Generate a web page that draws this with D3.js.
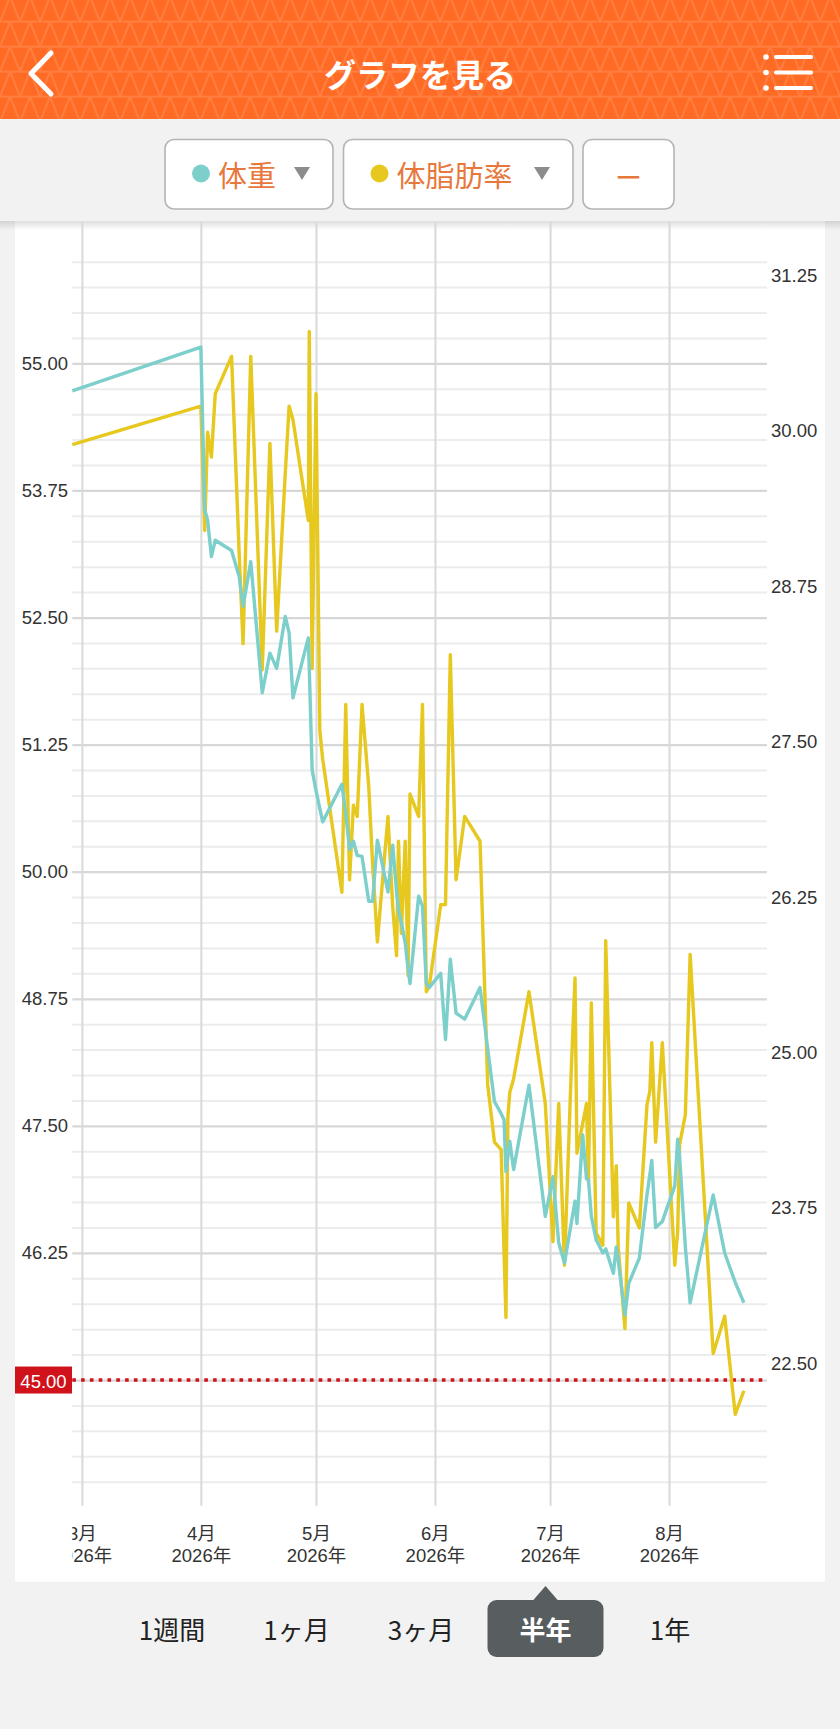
<!DOCTYPE html>
<html>
<head>
<meta charset="utf-8">
<script src="https://cdn.jsdelivr.net/npm/d3@7"></script>
<style>
  html, body { margin: 0; padding: 0; background: #f2f2f2; }
  svg { display: block; }
</style>
</head>
<body>
<svg id="chart" width="840" height="1729"></svg>
<script>
// ---------------- DATA ----------------
const pageTitle = "グラフを見る";
const seriesNames = ["体重", "体脂肪率"];
const periods = ["1週間", "1ヶ月", "3ヶ月", "半年", "1年"];
const selectedPeriod = "半年";

const xDomain = ["2026-02-26 12:00", "2026-08-26 12:00"];
const monthTicks = ["2026-03-01 00:00", "2026-04-01 00:00", "2026-05-01 00:00",
                    "2026-06-01 00:00", "2026-07-01 00:00", "2026-08-01 00:00"];
const weightTicks = [55.00, 53.75, 52.50, 51.25, 50.00, 48.75, 47.50, 46.25];
const fatTicks = [31.25, 30.00, 28.75, 27.50, 26.25, 25.00, 23.75, 22.50];
const weightDomain = [44, 56];
const fatRefTicks = [22.50, 31.25];
const targetWeight = 45.00;

const dates = [
  "2026-02-26 12:00", "2026-04-01 00:00", "2026-04-02 00:00", "2026-04-02 18:00",
  "2026-04-03 18:00", "2026-04-04 18:00", "2026-04-09 00:00", "2026-04-11 00:00",
  "2026-04-12 00:00", "2026-04-14 00:00", "2026-04-17 00:00", "2026-04-19 00:00",
  "2026-04-20 18:00", "2026-04-23 00:00", "2026-04-24 00:00", "2026-04-25 00:00",
  "2026-04-29 00:00", "2026-04-29 06:00", "2026-04-30 00:00", "2026-05-01 00:00",
  "2026-05-02 00:00", "2026-05-02 18:00", "2026-05-07 18:00", "2026-05-08 18:00",
  "2026-05-09 18:00", "2026-05-10 18:00", "2026-05-11 18:00", "2026-05-13 00:00",
  "2026-05-14 18:00", "2026-05-15 18:00", "2026-05-17 00:00", "2026-05-19 18:00",
  "2026-05-21 00:00", "2026-05-22 00:00", "2026-05-22 12:00", "2026-05-23 06:00",
  "2026-05-24 06:00", "2026-05-25 00:00", "2026-05-25 12:00", "2026-05-27 18:00",
  "2026-05-28 18:00", "2026-05-29 18:00", "2026-05-30 12:00", "2026-06-02 12:00",
  "2026-06-03 18:00", "2026-06-05 00:00", "2026-06-06 12:00", "2026-06-08 18:00",
  "2026-06-12 18:00", "2026-06-14 18:00", "2026-06-16 12:00", "2026-06-18 06:00",
  "2026-06-19 00:00", "2026-06-19 12:00", "2026-06-20 00:00", "2026-06-20 12:00",
  "2026-06-21 12:00", "2026-06-25 12:00", "2026-06-29 18:00", "2026-07-01 18:00",
  "2026-07-03 06:00", "2026-07-04 18:00", "2026-07-06 12:00", "2026-07-07 12:00",
  "2026-07-08 00:00", "2026-07-09 12:00", "2026-07-10 12:00", "2026-07-11 00:00",
  "2026-07-11 18:00", "2026-07-13 00:00", "2026-07-14 18:00", "2026-07-15 12:00",
  "2026-07-17 12:00", "2026-07-18 06:00", "2026-07-18 18:00", "2026-07-20 12:00",
  "2026-07-21 12:00", "2026-07-24 06:00", "2026-07-26 06:00", "2026-07-27 00:00",
  "2026-07-27 12:00", "2026-07-28 12:00", "2026-07-30 06:00", "2026-08-02 12:00",
  "2026-08-03 06:00", "2026-08-03 18:00", "2026-08-05 06:00", "2026-08-06 12:00",
  "2026-08-12 12:00", "2026-08-15 12:00", "2026-08-18 06:00", "2026-08-20 12:00"
];

const weight = [
  54.73, 55.16, 53.56, 53.46, 53.10, 53.26, 53.16, 52.90,
  52.61, 53.05, 51.76, 52.15, 52.00, 52.51, 52.35, 51.71,
  52.30, 52.00, 51.00, 50.80, 50.62, 50.49, 50.86, 50.57,
  50.22, 50.30, 50.16, 50.15, 49.71, 49.71, 50.31, 49.80,
  50.26, 49.80, 49.62, 49.50, 49.30, 49.04, 48.90, 49.76,
  49.66, 48.90, 48.86, 49.00, 48.35, 49.14, 48.61, 48.55,
  48.86, 48.26, 47.74, 47.62, 47.56, 47.05, 47.20, 47.35,
  47.07, 47.90, 46.61, 47.00, 46.35, 46.15, 46.54, 46.76,
  46.54, 47.41, 46.98, 46.97, 46.61, 46.38, 46.25, 46.29,
  46.05, 46.31, 46.18, 45.64, 45.95, 46.20, 46.82, 47.02,
  47.16, 46.50, 46.56, 46.91, 47.37, 47.20, 46.31, 45.76,
  46.82, 46.25, 45.96, 45.76
];

const bodyFat = [
  29.89, 30.20, 29.20, 29.99, 29.79, 30.30, 30.60, 29.00,
  28.29, 30.60, 28.08, 29.90, 28.39, 29.66, 30.20, 30.09,
  29.28, 30.80, 28.09, 30.30, 27.59, 27.36, 26.29, 27.80,
  26.39, 26.99, 26.90, 27.80, 27.14, 26.52, 25.89, 26.90,
  26.17, 25.78, 26.70, 25.96, 26.70, 25.62, 27.08, 26.90,
  27.80, 25.49, 25.53, 26.19, 26.19, 28.20, 26.39, 26.90,
  26.70, 24.74, 24.28, 24.22, 23.40, 22.87, 24.48, 24.68,
  24.79, 25.49, 24.59, 23.48, 24.59, 23.29, 24.84, 25.60,
  24.19, 24.43, 24.59, 23.96, 25.40, 23.55, 23.45, 25.90,
  23.68, 24.09, 23.44, 22.78, 23.79, 23.59, 24.58, 24.69,
  25.08, 24.28, 25.08, 23.29, 23.56, 24.26, 24.50, 25.79,
  22.58, 22.88, 22.09, 22.28
];

// ---------------- SETUP ----------------
const parse = d3.timeParse("%Y-%m-%d %H:%M");
const records = dates.map((d, i) => ({ date: parse(d), w: weight[i], f: bodyFat[i] }));

const svg = d3.select("#chart");
const FONT = "'Liberation Sans', 'Noto Sans CJK JP', Arial, sans-serif";
const JP = "'Noto Sans CJK JP', 'Noto Sans', sans-serif";
const ORANGE_TXT = "#e8773c";
const TEAL = "#7ccfcb";
const YELLOW = "#e6c81e";

const plot = { left: 72.3, right: 766.9, top: 261.7, bottom: 1481.7 };

const x = d3.scaleTime().domain(xDomain.map(parse)).range([plot.left, plot.right]);
const yW = d3.scaleLinear().domain(weightDomain).range([plot.bottom, plot.top]);
const yF = d3.scaleLinear().domain(fatRefTicks).range([1363.4, 275.6]);

// page background
svg.append("rect").attr("width", 840).attr("height", 1729).attr("fill", "#f2f2f2");

// ---------------- HEADER ----------------
const defs = svg.append("defs");
const pat = defs.append("pattern").attr("id", "tri").attr("patternUnits", "userSpaceOnUse")
  .attr("width", 20).attr("height", 25).attr("x", 0).attr("y", 21.7);
pat.append("rect").attr("width", 20).attr("height", 25).attr("fill", "#ff6b24");
pat.append("path").attr("d", "M0,25 L10,0 L20,25 M0,0 H20 M0,25 H20")
  .attr("stroke", "rgba(255,255,255,0.13)").attr("stroke-width", 2).attr("fill", "none");

svg.append("rect").attr("x", 0).attr("y", 0).attr("width", 840).attr("height", 119).attr("fill", "url(#tri)");
svg.append("text").attr("x", 420).attr("y", 73).attr("text-anchor", "middle")
  .attr("dominant-baseline", "central").attr("fill", "#fff")
  .attr("font-family", JP).attr("font-weight", 700).attr("font-size", 32).text(pageTitle);
svg.append("path").attr("d", "M51,53 L31,73.5 L51,94").attr("fill", "none")
  .attr("stroke", "#fff").attr("stroke-width", 5).attr("stroke-linecap", "round").attr("stroke-linejoin", "round");
[57, 72.5, 88].forEach(yy => {
  svg.append("circle").attr("cx", 766).attr("cy", yy).attr("r", 2.8).attr("fill", "#fff");
  svg.append("line").attr("x1", 776).attr("x2", 811).attr("y1", yy).attr("y2", yy)
    .attr("stroke", "#fff").attr("stroke-width", 4).attr("stroke-linecap", "round");
});

// ---------------- TOOLBAR ----------------
const btns = [
  { x: 165, w: 168, label: seriesNames[0], color: TEAL, tri: 302 },
  { x: 343.5, w: 229.5, label: seriesNames[1], color: YELLOW, tri: 542 },
  { x: 583, w: 91, label: "ー", color: null, tri: null }
];
btns.forEach(b => {
  svg.append("rect").attr("x", b.x).attr("y", 139.5).attr("width", b.w).attr("height", 69.5)
    .attr("rx", 9).attr("fill", "#fff").attr("stroke", "#b4b4b4").attr("stroke-width", 1.6);
  if (b.color) {
    svg.append("circle").attr("cx", b.x + 36).attr("cy", 173.5).attr("r", 9).attr("fill", b.color);
    svg.append("text").attr("x", b.x + 53).attr("y", 174).attr("dominant-baseline", "central")
      .attr("font-family", JP).attr("font-size", 29).attr("fill", ORANGE_TXT).text(b.label);
    svg.append("path").attr("d", `M${b.tri - 8},167 L${b.tri + 8},167 L${b.tri},180 Z`).attr("fill", "#8c8c8c");
  } else {
    svg.append("text").attr("x", b.x + b.w / 2).attr("y", 176).attr("text-anchor", "middle")
      .attr("dominant-baseline", "central").attr("font-family", JP).attr("font-size", 27)
      .attr("fill", ORANGE_TXT).text(b.label);
  }
});

// ---------------- CHART PANEL ----------------
svg.append("rect").attr("x", 15).attr("y", 221).attr("width", 810).attr("height", 1360.7).attr("fill", "#fff");
const shadow = defs.append("linearGradient").attr("id", "shadow").attr("x1", 0).attr("x2", 0).attr("y1", 0).attr("y2", 1);
shadow.append("stop").attr("offset", 0).attr("stop-color", "#000").attr("stop-opacity", 0.13);
shadow.append("stop").attr("offset", 1).attr("stop-color", "#000").attr("stop-opacity", 0);
svg.append("rect").attr("x", 0).attr("y", 221).attr("width", 840).attr("height", 9).attr("fill", "url(#shadow)");

// horizontal grid (every 0.25 kg, darker every 1.25)
const minorVals = d3.range(weightDomain[0], weightDomain[1] + 0.001, 0.25);
const isMajor = v => weightTicks.some(t => Math.abs(t - v) < 1e-6) || Math.abs(v - targetWeight) < 1e-6;
const hGrid = svg.append("g").attr("transform", `translate(${plot.left},0)`)
  .call(d3.axisLeft(yW).tickValues(minorVals).tickSize(-(plot.right - plot.left)).tickFormat(""));
hGrid.select(".domain").remove();
hGrid.selectAll(".tick line")
  .attr("stroke", d => isMajor(d) ? "#d7d7d7" : "#ececec")
  .attr("stroke-width", d => isMajor(d) ? 2.2 : 2);

// vertical month lines
const monthDates = monthTicks.map(parse);
const vBottom = 1505.7, vTop = 222;
const vGrid = svg.append("g").attr("transform", `translate(0,${vBottom})`)
  .call(d3.axisBottom(x).tickValues(monthDates).tickSize(-(vBottom - vTop)).tickFormat(""));
vGrid.select(".domain").remove();
vGrid.selectAll(".tick line").attr("stroke", "#d9d9d9").attr("stroke-width", 2);

// x labels (clipped at plot left edge)
defs.append("clipPath").attr("id", "xclip").append("rect")
  .attr("x", plot.left).attr("y", 1500).attr("width", 760).attr("height", 80);
const xLab = svg.append("g").attr("clip-path", "url(#xclip)")
  .append("g").attr("transform", `translate(0,${vBottom})`)
  .call(d3.axisBottom(x).tickValues(monthDates).tickSize(0).tickPadding(0)
        .tickFormat(d3.timeFormat("%-m月")));
xLab.select(".domain").remove();
xLab.attr("font-family", FONT).attr("font-size", 18.5);
xLab.selectAll(".tick text").each(function(d) {
  const t = d3.select(this);
  t.text(null).attr("y", 0).attr("dy", null).attr("fill", "#333");
  t.append("tspan").attr("x", 0).attr("y", 27).text(d3.timeFormat("%-m月")(d));
  t.append("tspan").attr("x", 0).attr("y", 49).text(d3.timeFormat("%Y年")(d));
});
xLab.selectAll(".tick text").attr("dominant-baseline", "central");

// left axis labels
const leftAx = svg.append("g").attr("transform", "translate(68,0)")
  .call(d3.axisLeft(yW).tickValues(weightTicks).tickSize(0).tickPadding(0).tickFormat(d3.format(".2f")));
leftAx.select(".domain").remove();
leftAx.attr("font-family", FONT).attr("font-size", 18.5);
leftAx.selectAll(".tick text").attr("fill", "#333");

// right axis labels
const rightAx = svg.append("g").attr("transform", "translate(771,0)")
  .call(d3.axisRight(yF).tickValues(fatTicks).tickSize(0).tickPadding(0).tickFormat(d3.format(".2f")));
rightAx.select(".domain").remove();
rightAx.attr("font-family", FONT).attr("font-size", 18.5);
rightAx.selectAll(".tick text").attr("fill", "#333");

// target line
svg.append("line").attr("x1", plot.left).attr("x2", plot.right)
  .attr("y1", yW(targetWeight)).attr("y2", yW(targetWeight))
  .attr("stroke", "#d0121b").attr("stroke-width", 3.4).attr("stroke-dasharray", "3.6 5.2");
svg.append("rect").attr("x", 15).attr("y", yW(targetWeight) - 13.5).attr("width", 57).attr("height", 27)
  .attr("fill", "#d0121b");
svg.append("text").attr("x", 43.5).attr("y", yW(targetWeight) + 1).attr("text-anchor", "middle")
  .attr("dominant-baseline", "central").attr("font-family", FONT).attr("font-size", 18.5)
  .attr("fill", "#fff").text(d3.format(".2f")(targetWeight));

// series lines
const fatLine = d3.line().x(d => x(d.date)).y(d => yF(d.f));
const wLine = d3.line().x(d => x(d.date)).y(d => yW(d.w));
svg.append("path").datum(records).attr("d", fatLine).attr("fill", "none")
  .attr("stroke", YELLOW).attr("stroke-width", 3.4).attr("stroke-linejoin", "round");
svg.append("path").datum(records).attr("d", wLine).attr("fill", "none")
  .attr("stroke", TEAL).attr("stroke-width", 3.4).attr("stroke-linejoin", "round");

// ---------------- PERIOD SELECTOR ----------------
const periodX = d3.scalePoint().domain(periods).range([172, 670]);
const selX = periodX(selectedPeriod);
svg.append("path").attr("d", `M${selX - 13},1601 L${selX},1586 L${selX + 13},1601 Z`).attr("fill", "#585d60");
svg.append("rect").attr("x", selX - 58).attr("y", 1600).attr("width", 116).attr("height", 57)
  .attr("rx", 9).attr("fill", "#585d60");
periods.forEach(p => {
  const sel = p === selectedPeriod;
  svg.append("text").attr("x", periodX(p)).attr("y", 1628).attr("text-anchor", "middle")
    .attr("dominant-baseline", "central").attr("font-family", JP)
    .attr("font-size", 26).attr("font-weight", sel ? 700 : 400)
    .attr("fill", sel ? "#fff" : "#222").text(p);
});
</script>
</body>
</html>
